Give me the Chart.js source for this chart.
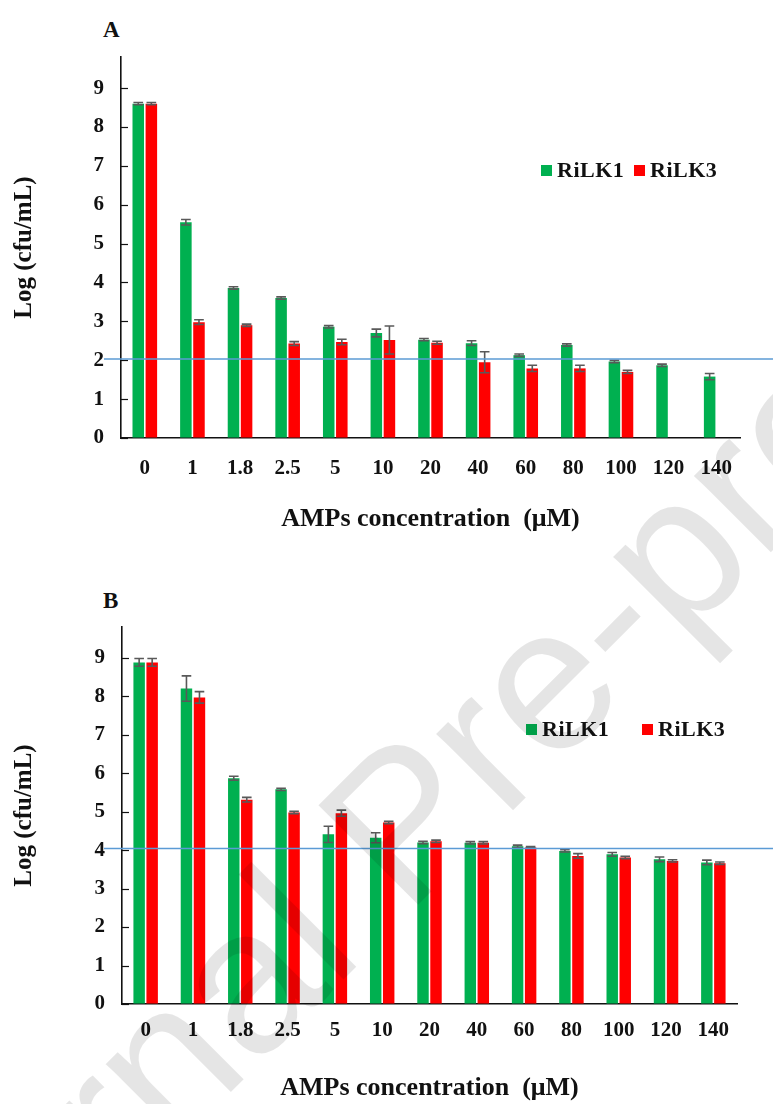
<!DOCTYPE html>
<html>
<head>
<meta charset="utf-8">
<script src="https://cdn.jsdelivr.net/npm/chart.js@4.4.1/dist/chart.umd.min.js"></script>
<style>
  html, body { margin: 0; padding: 0; background: #fff; }
  body { width: 773px; height: 1104px; position: relative; overflow: hidden; font-family: 'Liberation Serif', 'Times New Roman', serif; }
  canvas { position: absolute; left: 0; }
  .tag { position: absolute; font-weight: bold; font-size: 23px; color: #111; line-height: 1; }
  .leg { position: absolute; font-weight: bold; font-size: 22px; color: #111; line-height: 1; display: flex; align-items: center; letter-spacing: 0.5px; }
  .sw { display: inline-block; width: 11px; height: 11px; margin-right: 5px; }
  .watermark { position: absolute; left: 400px; top: 822px; transform: translate(-50%, -50%) rotate(-45deg);
    font-family: 'Liberation Sans', Arial, sans-serif; font-size: 205px; line-height: 1; white-space: nowrap;
    color: rgba(0, 0, 0, 0.1); pointer-events: none; }
</style>
</head>
<body>
<div class="tag" style="left:103px; top:18px;">A</div>
<div class="tag" style="left:103px; top:589px;">B</div>
<canvas id="chartA" width="773" height="550" style="top:0px;"></canvas>
<canvas id="chartB" width="773" height="544" style="top:560px;"></canvas>

<div class="leg" style="left:541px; top:159px;"><span class="sw" style="background:#00B050"></span>RiLK1</div>
<div class="leg" style="left:634px; top:159px;"><span class="sw" style="background:#FF0000"></span>RiLK3</div>
<div class="leg" style="left:526px; top:718px;"><span class="sw" style="background:#00B050"></span>RiLK1</div>
<div class="leg" style="left:642px; top:718px;"><span class="sw" style="background:#FF0000"></span>RiLK3</div>

<div class="watermark">Journal Pre-proof</div>

<script>
// AMP concentrations (µM)
const concLabels = ['0', '1', '1.8', '2.5', '5', '10', '20', '40', '60', '80', '100', '120', '140'];

// panel A
const rilk1A = [8.6, 5.55, 3.86, 3.6, 2.86, 2.7, 2.53, 2.44, 2.13, 2.39, 1.97, 1.87, 1.58];
const rilk1AErr = [0.03, 0.07, 0.03, 0.03, 0.03, 0.1, 0.03, 0.06, 0.03, 0.03, 0.03, 0.03, 0.08];
const rilk3A = [8.6, 2.98, 2.9, 2.43, 2.47, 2.52, 2.45, 1.95, 1.79, 1.79, 1.7, null, null];
const rilk3AErr = [0.03, 0.06, 0.03, 0.05, 0.07, 0.36, 0.04, 0.27, 0.08, 0.08, 0.04, null, null];
const refA = 2.03;

// panel B
const rilk1B = [8.88, 8.2, 5.87, 5.58, 4.41, 4.32, 4.2, 4.19, 4.1, 3.98, 3.89, 3.76, 3.68];
const rilk1BErr = [0.1, 0.33, 0.05, 0.03, 0.21, 0.13, 0.03, 0.03, 0.03, 0.03, 0.05, 0.06, 0.06];
const rilk3B = [8.88, 7.97, 5.31, 4.98, 4.96, 4.72, 4.23, 4.19, 4.07, 3.85, 3.81, 3.72, 3.66];
const rilk3BErr = [0.1, 0.15, 0.06, 0.03, 0.08, 0.03, 0.03, 0.03, 0.02, 0.06, 0.03, 0.03, 0.03];
const refB = 4.04;

const textColor = '#111';

// error bars drawn on top of bars, values from dataset.errors
const errorBars = {
    id: 'errorBars',
    afterDatasetsDraw(chart) {
        const ctx = chart.ctx;
        const y = chart.scales.y;
        chart.data.datasets.forEach((ds, i) => {
            const meta = chart.getDatasetMeta(i);
            meta.data.forEach((bar, j) => {
                const v = ds.data[j], e = ds.errors[j];
                if (v == null || e == null) return;
                const top = y.getPixelForValue(v + e);
                const bot = y.getPixelForValue(v - e);
                const half = bar.width * 0.42;
                ctx.save();
                ctx.strokeStyle = '#595959';
                ctx.lineWidth = 1.6;
                ctx.beginPath();
                ctx.moveTo(bar.x, top); ctx.lineTo(bar.x, bot);
                ctx.moveTo(bar.x - half, top); ctx.lineTo(bar.x + half, top);
                ctx.moveTo(bar.x - half, bot); ctx.lineTo(bar.x + half, bot);
                ctx.stroke();
                ctx.restore();
            });
        });
    }
};

// inner tick marks on the y axis + the blue threshold line
const axisExtras = {
    id: 'axisExtras',
    afterDraw(chart, args, opts) {
        const ctx = chart.ctx;
        const y = chart.scales.y;
        const left = chart.chartArea.left;
        ctx.save();
        ctx.strokeStyle = '#111';
        ctx.lineWidth = 1.2;
        y.ticks.forEach(t => {
            const py = Math.round(y.getPixelForValue(t.value)) + 0.5;
            ctx.beginPath();
            ctx.moveTo(left, py); ctx.lineTo(left + 7, py);
            ctx.stroke();
        });
        const ry = y.getPixelForValue(opts.refValue);
        ctx.strokeStyle = '#5B9BD5';
        ctx.lineWidth = 1.5;
        ctx.beginPath();
        ctx.moveTo(opts.lineStart, ry); ctx.lineTo(chart.width, ry);
        ctx.stroke();
        ctx.restore();
    }
};

function makeChart(id, d1, e1, d3, e3, ref, geo) {
    return new Chart(document.getElementById(id), {
        type: 'bar',
        data: {
            labels: concLabels,
            datasets: [
                { label: 'RiLK1', data: d1, errors: e1, backgroundColor: '#00B050', borderWidth: 0 },
                { label: 'RiLK3', data: d3, errors: e3, backgroundColor: '#FF0000', borderWidth: 0 }
            ]
        },
        options: {
            responsive: false,
            animation: false,
            layout: { padding: { top: geo.top, right: geo.right, left: 0, bottom: 0 } },
            datasets: { bar: { categoryPercentage: 0.55, barPercentage: 0.88 } },
            plugins: {
                legend: { display: false },
                tooltip: { enabled: false },
                axisExtras: { refValue: ref, lineStart: 104 }
            },
            scales: {
                x: {
                    afterFit: s => { s.height = geo.xHeight; },
                    grid: { display: true, drawOnChartArea: false, drawTicks: false },
                    border: { color: '#111', width: 1.6 },
                    ticks: { color: textColor, padding: geo.xPad, font: { family: 'Liberation Serif', weight: 'bold', size: 21 } },
                    title: {
                        display: true, text: 'AMPs concentration  (\u03bcM)', color: textColor,
                        font: { family: 'Liberation Serif', weight: 'bold', size: 26 },
                        padding: { top: 0, bottom: geo.titlePad }
                    }
                },
                y: {
                    min: 0, max: 9.8,
                    afterFit: s => { s.width = geo.left; },
                    afterBuildTicks: s => { s.ticks = s.ticks.filter(t => Number.isInteger(t.value)); },
                    grid: { display: true, drawOnChartArea: false, drawTicks: false },
                    border: { color: '#111', width: 1.6 },
                    ticks: { stepSize: 1, color: textColor, padding: 17, font: { family: 'Liberation Serif', weight: 'bold', size: 21 } },
                    title: {
                        display: true, text: 'Log (cfu/mL)', color: textColor,
                        font: { family: 'Liberation Serif', weight: 'bold', size: 25 },
                        padding: { top: 10, bottom: 0 }
                    }
                }
            }
        },
        plugins: [errorBars, axisExtras]
    });
}

makeChart('chartA', rilk1A, rilk1AErr, rilk3A, rilk3AErr, refA,
    { top: 57, right: 33, left: 121, xHeight: 112, xPad: 18, titlePad: 15 });
makeChart('chartB', rilk1B, rilk1BErr, rilk3B, rilk3BErr, refB,
    { top: 67, right: 36, left: 122, xHeight: 100, xPad: 14, titlePad: 0 });
</script>
</body>
</html>
